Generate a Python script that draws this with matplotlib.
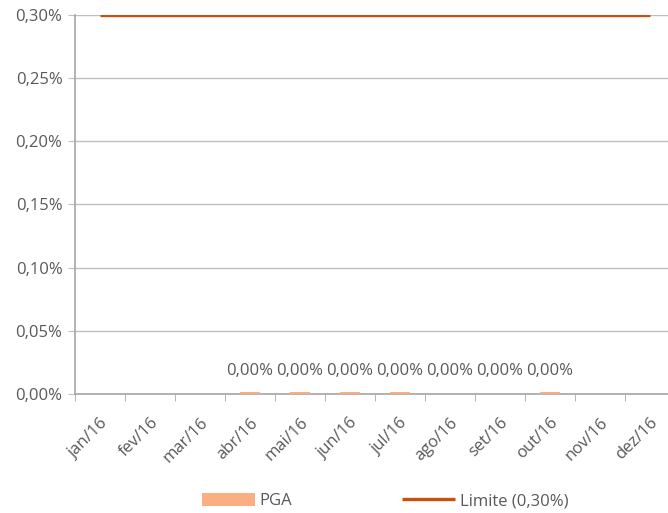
import numpy as np
import matplotlib.pyplot as plt
from matplotlib.ticker import FuncFormatter

# data (values in %)
months = ["jan/16", "fev/16", "mar/16", "abr/16", "mai/16", "jun/16",
          "jul/16", "ago/16", "set/16", "out/16", "nov/16", "dez/16"]
pga = [np.nan, np.nan, np.nan, 0.0015, 0.0015, 0.0015, 0.0015, 0.0, 0.0, 0.0015, np.nan, np.nan]
limite = [0.30] * 12

plt.rcParams["font.family"] = ["Open Sans", "DejaVu Sans"]
txt = "#595959"
fs = 12

fig = plt.figure(figsize=(6.68, 5.13), dpi=100)
# plot area runs a little past the right edge, as in the reference
ax = fig.add_axes([75 / 668, 119 / 513, 600 / 668, 379 / 513])

x = np.arange(len(months))
bars = ax.bar(x, pga, width=0.4, color="#FBAE82", label="PGA", zorder=3)
line, = ax.plot(x, limite, color="#C9510C", lw=2.4, label="Limite (0,30%)", zorder=4,
                solid_capstyle="butt")

for xi, v in zip(x, pga):
    if not np.isnan(v):
        ax.text(xi, 0.012, f"{v:.2f}%".replace(".", ","), ha="center", va="bottom",
                fontsize=fs, color=txt)

ax.set_xlim(-0.5, 11.5)
ax.set_ylim(0, 0.30)
ax.set_yticks(np.arange(0, 0.301, 0.05))
ax.yaxis.set_major_formatter(FuncFormatter(lambda v, p: f"{v:.2f}%".replace(".", ",")))
ax.grid(axis="y", color="#BFBFBF", lw=1, zorder=0)
ax.set_xticks(x)
ax.set_xticklabels(months, rotation=45, ha="right", rotation_mode="anchor")
ax.set_xticks(np.arange(-0.5, 12, 1), minor=True)
ax.tick_params(axis="x", which="major", length=0, pad=15, labelsize=fs, labelcolor=txt)
ax.tick_params(axis="x", which="minor", length=5, color="#A6A6A6")
ax.tick_params(axis="y", length=5, color="#BFBFBF", labelsize=fs, labelcolor=txt, pad=4)

for s in ["top", "right"]:
    ax.spines[s].set_visible(False)
ax.spines["left"].set_color("#A6A6A6")
ax.spines["bottom"].set_color("#A6A6A6")
ax.spines["left"].set_linewidth(1.2)
ax.spines["bottom"].set_linewidth(1.2)

fig.legend([bars, line], ["PGA", "Limite (0,30%)"], loc="lower left",
           bbox_to_anchor=(187 / 668, -0.022), ncol=2, frameon=False,
           fontsize=fs, labelcolor=txt, handlelength=3.15, handleheight=0.9,
           columnspacing=6.6, handletextpad=0.3)

fig.savefig("out.png", dpi=100)
